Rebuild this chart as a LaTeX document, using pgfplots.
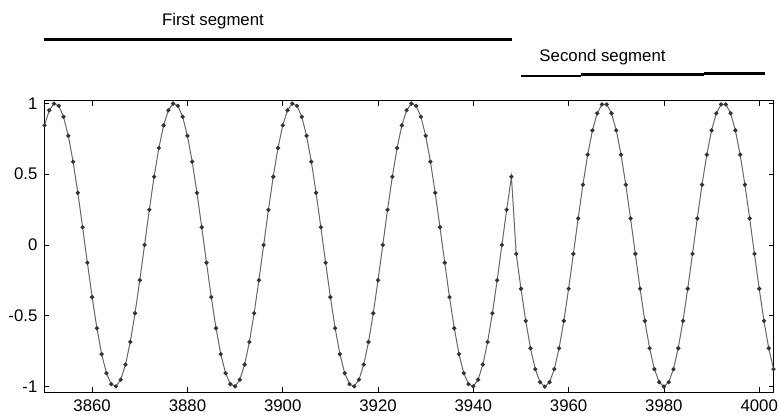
\documentclass[border=0pt]{standalone}
\usepackage{fontspec}
\setmainfont{Liberation Sans}
\usepackage{pgfplots}
\pgfplotsset{compat=1.18}

\begin{document}
\begin{tikzpicture}
\begin{axis}[
  width=364.5pt, height=145.9pt,
  scale only axis,
  xmin=3850, xmax=4003,
  ymin=-1.04, ymax=1.02,
  xtick={3860,3880,...,4000},
  ytick={-1,-0.5,0,0.5,1},
  yticklabels={-1,-0.5,0,0.5,1},
  /pgf/number format/1000 sep={},
  /pgf/number format/assume math mode=true,
  tick align=inside,
  major tick length=2.5pt,
  tick style={black, line width=0.4pt},
  axis line style={black, line width=0.5pt},
  ticklabel style={font=\fontsize{8.4}{10}\selectfont},
  clip=false,
]
  \addplot[black!60, line width=0.5pt, mark=*, mark size=0.8pt,
           mark options={fill=black!80, draw=black!80}]
    coordinates {
      (3850,0.84433) (3851,0.95106)
      (3852,0.99803) (3853,0.98229) (3854,0.90483) (3855,0.77051) (3856,0.58779)
      (3857,0.36812) (3858,0.12533) (3859,-0.12533) (3860,-0.36812) (3861,-0.58779)
      (3862,-0.77051) (3863,-0.90483) (3864,-0.98229) (3865,-0.99803) (3866,-0.95106)
      (3867,-0.84433) (3868,-0.68455) (3869,-0.48175) (3870,-0.24869) (3871,0.0)
      (3872,0.24869) (3873,0.48175) (3874,0.68455) (3875,0.84433) (3876,0.95106)
      (3877,0.99803) (3878,0.98229) (3879,0.90483) (3880,0.77051) (3881,0.58779)
      (3882,0.36812) (3883,0.12533) (3884,-0.12533) (3885,-0.36812) (3886,-0.58779)
      (3887,-0.77051) (3888,-0.90483) (3889,-0.98229) (3890,-0.99803) (3891,-0.95106)
      (3892,-0.84433) (3893,-0.68455) (3894,-0.48175) (3895,-0.24869) (3896,0.0)
      (3897,0.24869) (3898,0.48175) (3899,0.68455) (3900,0.84433) (3901,0.95106)
      (3902,0.99803) (3903,0.98229) (3904,0.90483) (3905,0.77051) (3906,0.58779)
      (3907,0.36812) (3908,0.12533) (3909,-0.12533) (3910,-0.36812) (3911,-0.58779)
      (3912,-0.77051) (3913,-0.90483) (3914,-0.98229) (3915,-0.99803) (3916,-0.95106)
      (3917,-0.84433) (3918,-0.68455) (3919,-0.48175) (3920,-0.24869) (3921,0.0)
      (3922,0.24869) (3923,0.48175) (3924,0.68455) (3925,0.84433) (3926,0.95106)
      (3927,0.99803) (3928,0.98229) (3929,0.90483) (3930,0.77051) (3931,0.58779)
      (3932,0.36812) (3933,0.12533) (3934,-0.12533) (3935,-0.36812) (3936,-0.58779)
      (3937,-0.77051) (3938,-0.90483) (3939,-0.98229) (3940,-0.99803) (3941,-0.95106)
      (3942,-0.84433) (3943,-0.68455) (3944,-0.48175) (3945,-0.24869) (3946,0.0)
      (3947,0.24869) (3948,0.48175)
      (3949,-0.06279) (3950,-0.30902) (3951,-0.53583) (3952,-0.72897) (3953,-0.87631)
      (3954,-0.96858) (3955,-1)
      (3956,-0.96858) (3957,-0.87631) (3958,-0.72897) (3959,-0.53583) (3960,-0.30902)
      (3961,-0.06279) (3962,0.18738) (3963,0.42578) (3964,0.63742) (3965,0.80902)
      (3966,0.92978) (3967,0.99211) (3968,0.99211) (3969,0.92978) (3970,0.80902)
      (3971,0.63742) (3972,0.42578) (3973,0.18738) (3974,-0.06279) (3975,-0.30902)
      (3976,-0.53583) (3977,-0.72897) (3978,-0.87631) (3979,-0.96858) (3980,-1)
      (3981,-0.96858) (3982,-0.87631) (3983,-0.72897) (3984,-0.53583) (3985,-0.30902)
      (3986,-0.06279) (3987,0.18738) (3988,0.42578) (3989,0.63742) (3990,0.80902)
      (3991,0.92978) (3992,0.99211) (3993,0.99211) (3994,0.92978) (3995,0.80902)
      (3996,0.63742) (3997,0.42578) (3998,0.18738) (3999,-0.06279) (4000,-0.30902)
      (4001,-0.53583) (4002,-0.72897) (4003,-0.87631)
    };
  % segment annotations above the axis
  \draw[black, line width=1.5pt] (axis cs:3850,1.454) -- (axis cs:3948.2,1.454);
  \node[anchor=base west, inner sep=0pt, font=\fontsize{8.4}{10}\selectfont]
    at (axis cs:3874.6,1.553) {First segment};
  \draw[black, line width=1.1pt] (axis cs:3950,1.195) -- (axis cs:3962.5,1.195);
  \draw[black, line width=1.4pt] (axis cs:3962.5,1.202) -- (axis cs:3988.5,1.202);
  \draw[black, line width=1.5pt] (axis cs:3988.5,1.209) -- (axis cs:4001.2,1.209);
  \node[anchor=base west, inner sep=0pt, font=\fontsize{8.4}{10}\selectfont]
    at (axis cs:3953.8,1.294) {Second segment};
\end{axis}
\pgfresetboundingbox
\path ([shift={(-22.25pt,-13.35pt)}]current axis.south west)
  rectangle ([shift={(2.25pt,50.25pt)}]current axis.north east);
\end{tikzpicture}
\end{document}
